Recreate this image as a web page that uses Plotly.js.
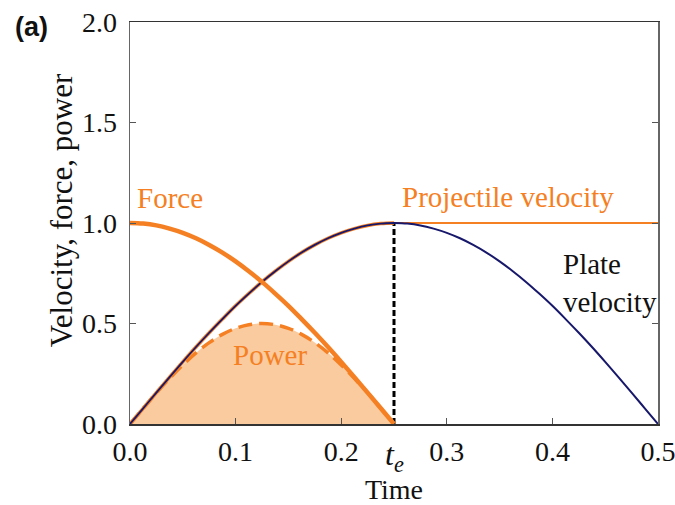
<!DOCTYPE html>
<html>
<head>
<meta charset="utf-8">
<script src="https://cdn.plot.ly/plotly-3.0.1.min.js"></script>
<style>html,body{margin:0;padding:0;background:#fff;}#chart{width:675px;height:505px;}</style>
</head>
<body>
<div id="chart"></div>
<script>
// Time samples during the contact phase (0 .. t_e)
const timeContact = [0, 0.0125, 0.025, 0.0375, 0.05, 0.0625, 0.075, 0.0875, 0.1, 0.1125, 0.125,
  0.1375, 0.15, 0.1625, 0.175, 0.1875, 0.2, 0.2125, 0.225, 0.2375, 0.25];
// Time samples after contact (t_e .. 0.5)
const timeAfter = [0.25, 0.2625, 0.275, 0.2875, 0.3, 0.3125, 0.325, 0.3375, 0.35, 0.3625, 0.375,
  0.3875, 0.4, 0.4125, 0.425, 0.4375, 0.45, 0.4625, 0.475, 0.4875, 0.5];

const forceValues = [1.0, 0.997, 0.988, 0.972, 0.951, 0.924, 0.891, 0.853, 0.809, 0.76, 0.707,
  0.649, 0.588, 0.522, 0.454, 0.383, 0.309, 0.233, 0.156, 0.078, 0.0];
const powerValues = [0.0, 0.078, 0.155, 0.227, 0.294, 0.354, 0.405, 0.446, 0.476, 0.494, 0.5,
  0.494, 0.476, 0.446, 0.405, 0.354, 0.294, 0.227, 0.155, 0.078, 0.0];
const velocityRise = [0.0, 0.078, 0.156, 0.233, 0.309, 0.383, 0.454, 0.522, 0.588, 0.649, 0.707,
  0.76, 0.809, 0.853, 0.891, 0.924, 0.951, 0.972, 0.988, 0.997, 1.0];
const plateVelocityAfter = [1.0, 0.997, 0.988, 0.972, 0.951, 0.924, 0.891, 0.853, 0.809, 0.76, 0.707,
  0.649, 0.588, 0.522, 0.454, 0.383, 0.309, 0.233, 0.156, 0.078, 0.0];
const projectileAfter = [1, 1];
const projectileAfterTime = [0.25, 0.5];
const tEnd = 0.25;
const contactLine = [0, 1];

const xTickVals = [0, 0.1, 0.2, 0.3, 0.4, 0.5];
const xTickText = ['0.0', '0.1', '0.2', '0.3', '0.4', '0.5'];
const yTickVals = [0, 0.5, 1.0, 1.5, 2.0];
const yTickText = ['0.0', '0.5', '1.0', '1.5', '2.0'];

const orange = '#F58023';
const navy = '#17176B';
const serif = 'Liberation Serif';

const traces = [
  {x: timeContact, y: powerValues, type: 'scatter', mode: 'lines', fill: 'tozeroy',
   fillcolor: 'rgba(251,200,155,0.95)', line: {width: 0, color: 'rgba(0,0,0,0)', shape: 'spline'}, hoverinfo: 'skip'},
  {x: timeContact, y: powerValues, type: 'scatter', mode: 'lines',
   line: {color: orange, width: 3.5, dash: '14px,7px', shape: 'spline'}},
  {x: [tEnd, tEnd], y: contactLine, type: 'scatter', mode: 'lines',
   line: {color: '#000', width: 3, dash: '6px,3px'}},
  {x: projectileAfterTime, y: projectileAfter, type: 'scatter', mode: 'lines',
   line: {color: orange, width: 2}},
  {x: timeContact, y: velocityRise, type: 'scatter', mode: 'lines',
   line: {color: orange, width: 3.5, shape: 'spline'}},
  {x: timeContact, y: velocityRise, type: 'scatter', mode: 'lines',
   line: {color: navy, width: 1.8, shape: 'spline'}},
  {x: timeAfter, y: plateVelocityAfter, type: 'scatter', mode: 'lines',
   line: {color: navy, width: 2, shape: 'spline'}},
  {x: timeContact, y: forceValues, type: 'scatter', mode: 'lines',
   line: {color: orange, width: 4.5, shape: 'spline'}}
];

const layout = {
  width: 675, height: 505,
  margin: {l: 130, r: 17, t: 22, b: 81},
  paper_bgcolor: '#fff', plot_bgcolor: '#fff',
  showlegend: false,
  font: {family: serif, size: 28, color: '#111'},
  xaxis: {
    range: [0, 0.5], tickvals: xTickVals, ticktext: xTickText,
    ticks: 'inside', ticklen: 6, tickcolor: '#555', tickwidth: 1,
    showline: true, linecolor: '#333', linewidth: 1.5, mirror: true,
    showgrid: false, zeroline: false, automargin: false,
    ticklabelstandoff: 2, ticklabeloverflow: 'allow',
    tickfont: {family: serif, size: 28, color: '#111'},
    title: {text: 'Time', font: {family: serif, size: 28, color: '#111'}, standoff: 23}
  },
  yaxis: {
    range: [0, 2.0], tickvals: yTickVals, ticktext: yTickText,
    ticks: 'inside', ticklen: 6, tickcolor: '#555', tickwidth: 1,
    showline: true, linecolor: '#666', linewidth: 1.5, mirror: 'ticks',
    showgrid: false, zeroline: false, automargin: false,
    ticklabelstandoff: 6, ticklabeloverflow: 'allow',
    tickfont: {family: serif, size: 28, color: '#111'}
  },
  annotations: [
    {text: 'Velocity, force, power', xref: 'paper', yref: 'paper', x: -0.1307, y: 0.532,
     xanchor: 'center', yanchor: 'middle', textangle: -90, showarrow: false,
     font: {family: serif, size: 31, color: '#111'}},
    {text: '<b>(a)</b>', xref: 'paper', yref: 'paper', x: -0.186, y: 0.988, xanchor: 'center', yanchor: 'middle',
     showarrow: false, font: {family: 'Liberation Sans', size: 27, color: '#111'}},
    {text: '<i>t<sub>e</sub></i>', xref: 'x', yref: 'paper', x: tEnd, y: -0.082, xanchor: 'center', yanchor: 'middle',
     showarrow: false, font: {family: serif, size: 32, color: '#111'}},
    {text: 'Force', xref: 'x', yref: 'y', x: 0.038, y: 1.124, xanchor: 'center', yanchor: 'middle',
     showarrow: false, font: {family: serif, size: 29, color: orange}},
    {text: 'Projectile velocity', xref: 'x', yref: 'y', x: 0.358, y: 1.129, xanchor: 'center', yanchor: 'middle',
     showarrow: false, font: {family: serif, size: 29, color: orange}},
    {text: 'Power', xref: 'x', yref: 'y', x: 0.1326, y: 0.343, xanchor: 'center', yanchor: 'middle',
     showarrow: false, font: {family: serif, size: 29, color: orange}},
    {text: 'Plate<br>velocity', xref: 'x', yref: 'y', x: 0.408, y: 0.703, xanchor: 'left', yanchor: 'middle',
     align: 'left', showarrow: false, font: {family: serif, size: 29, color: '#111'}}
  ]
};

Plotly.newPlot('chart', traces, layout, {displayModeBar: false, staticPlot: true});
</script>
</body>
</html>
